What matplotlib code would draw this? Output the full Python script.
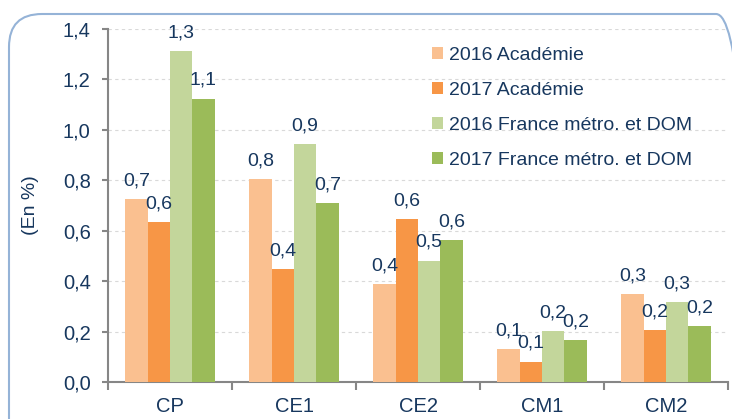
import numpy as np
import matplotlib.pyplot as plt
from matplotlib.patches import FancyBboxPatch
from matplotlib.ticker import FuncFormatter, FixedLocator

plt.rcParams['font.family'] = ['Liberation Sans', 'DejaVu Sans']

# Données
categories = ["CP", "CE1", "CE2", "CM1", "CM2"]
series = ["2016 Académie", "2017 Académie", "2016 France métro. et DOM", "2017 France métro. et DOM"]
ac2016 = [0.726, 0.806, 0.388, 0.131, 0.348]
ac2017 = [0.635, 0.448, 0.647, 0.081, 0.206]
fr2016 = [1.311, 0.944, 0.481, 0.202, 0.317]
fr2017 = [1.124, 0.709, 0.563, 0.167, 0.221]
valeurs = [ac2016, ac2017, fr2016, fr2017]
couleurs = ["#FAC090", "#F79646", "#C3D69B", "#9BBB59"]

texte = "#17375E"
gris = "#868686"

fig = plt.figure(figsize=(7.32, 4.19), dpi=100)

# cadre arrondi autour du graphique
cadre = FancyBboxPatch((9 / 732, -40 / 419), 740 / 732, (419 - 14 + 40) / 419,
                       boxstyle="round,pad=0,rounding_size=0.045",
                       transform=fig.transFigure, facecolor="none",
                       edgecolor="#95B3D7", linewidth=1.5, mutation_aspect=732 / 419)
fig.patches.append(cadre)

ax = fig.add_axes([108 / 732, 37 / 419, 620 / 732, 353 / 419])

x = np.arange(len(categories))
largeur = 0.18
for i, (vals, coul, nom) in enumerate(zip(valeurs, couleurs, series)):
    pos = x + (i - 1.5) * largeur
    barres = ax.bar(pos, vals, largeur, color=coul, label=nom, zorder=3)
    for b, v in zip(barres, vals):
        ax.annotate(f"{v:.1f}".replace(".", ","), (b.get_x() + b.get_width() / 2, v),
                    xytext=(0, 7), textcoords="offset points", ha="center", va="bottom",
                    fontsize=14, color=texte, zorder=4)

ax.set_xlim(-0.5, len(categories) - 0.5)
ax.set_ylim(0, 1.4)
ax.set_yticks(np.arange(0, 1.41, 0.2))
ax.yaxis.set_major_formatter(FuncFormatter(lambda v, p: f"{v:.1f}".replace(".", ",")))
ax.set_xticks(x)
ax.set_xticklabels(categories)
ax.xaxis.set_minor_locator(FixedLocator(np.arange(-0.5, len(categories), 1.0)))
ax.tick_params(axis="x", which="major", length=0, pad=11, labelsize=14.5, labelcolor=texte)
ax.tick_params(axis="x", which="minor", length=6, width=1.5, color=gris, direction="out")
ax.tick_params(axis="y", length=4.5, width=1.5, color=gris, pad=8, labelsize=14.5, labelcolor=texte)

ax.grid(axis="y", linestyle=(0, (3, 3)), color="#D9D9D9", linewidth=0.8, zorder=0)
for s in ["top", "right"]:
    ax.spines[s].set_visible(False)
for s in ["left", "bottom"]:
    ax.spines[s].set_color(gris)
    ax.spines[s].set_linewidth(1.5)

ax.set_ylabel("(En %)", fontsize=14, color=texte, labelpad=17)

leg = ax.legend(loc="upper left", bbox_to_anchor=(432 / 732, 372 / 419),
                bbox_transform=fig.transFigure, frameon=False, fontsize=14,
                handlelength=0.55, handleheight=0.55, handletextpad=0.3,
                labelspacing=0.92, borderpad=0, borderaxespad=0)
for t in leg.get_texts():
    t.set_color(texte)

fig.savefig("out.png", dpi=100)
